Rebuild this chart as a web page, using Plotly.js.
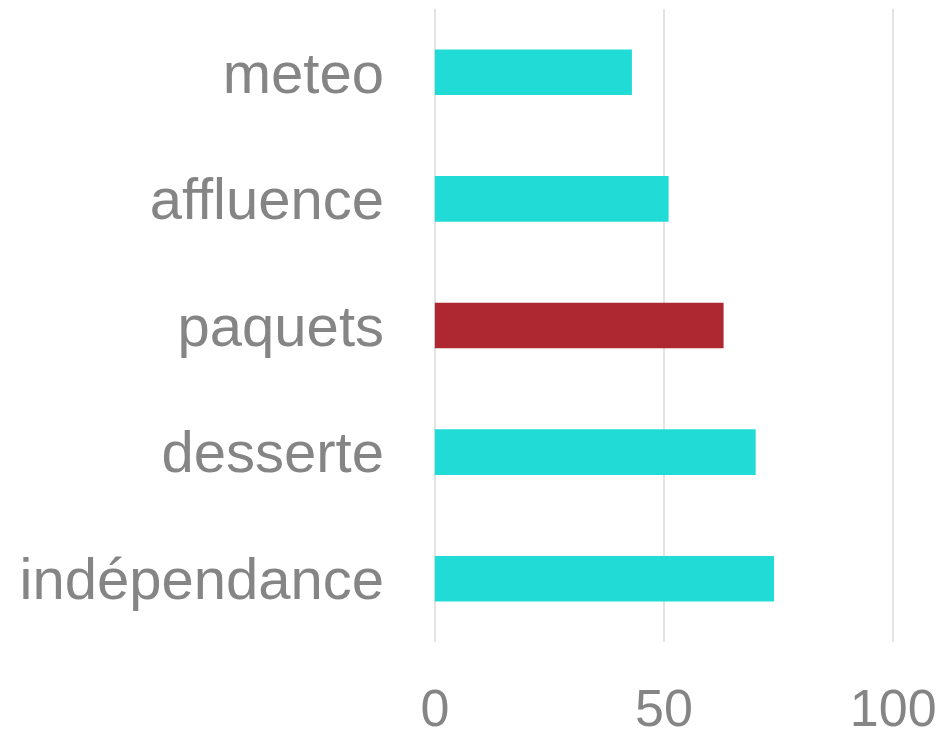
<!DOCTYPE html>
<html>
<head>
<meta charset="utf-8">
<script src="https://cdn.plot.ly/plotly-3.0.1.min.js"></script>
<style>html,body{margin:0;padding:0;background:#fff;}#chart{width:946px;height:736px;}</style>
</head>
<body>
<div id="chart"></div>
<script>
const categories = ["indépendance", "desserte", "paquets", "affluence", "meteo"];
const values = [74, 70, 63, 51, 43];
const highlight = "paquets";
const tickVals = [0, 50, 100];
const tickText = ["0", "50", "100"];

const teal = "#21DBD6";
const red = "#AD2831";
const colors = categories.map(c => c === highlight ? red : teal);

const trace = {
  type: "bar",
  orientation: "h",
  y: categories,
  x: values,
  width: 0.36,
  marker: {color: colors, line: {width: 0}},
  hoverinfo: "none"
};

const yfont = {family: "Liberation Sans, Arial, sans-serif", size: 58, color: "#858585"};
const xfont = {family: "Liberation Sans, Arial, sans-serif", size: 52, color: "#858585"};

const layout = {
  width: 946,
  height: 736,
  margin: {l: 433, r: 51, t: 9, b: 94, pad: 0},
  paper_bgcolor: "#ffffff",
  plot_bgcolor: "#ffffff",
  showlegend: false,
  xaxis: {
    range: [-0.4, 100.4],
    tickvals: tickVals,
    ticktext: tickText,
    showgrid: true,
    gridcolor: "#e3e3e3",
    gridwidth: 2,
    zeroline: false,
    showline: false,
    ticks: "",
    ticklabelstandoff: 31,
    tickfont: xfont,
    fixedrange: true
  },
  yaxis: {
    type: "category",
    categoryorder: "array",
    categoryarray: categories,
    showgrid: false,
    zeroline: false,
    showline: false,
    ticks: "",
    ticklabelstandoff: 48,
    tickfont: yfont,
    fixedrange: true
  },
  font: yfont
};

Plotly.newPlot("chart", [trace], layout, {displayModeBar: false, staticPlot: true});
</script>
</body>
</html>
